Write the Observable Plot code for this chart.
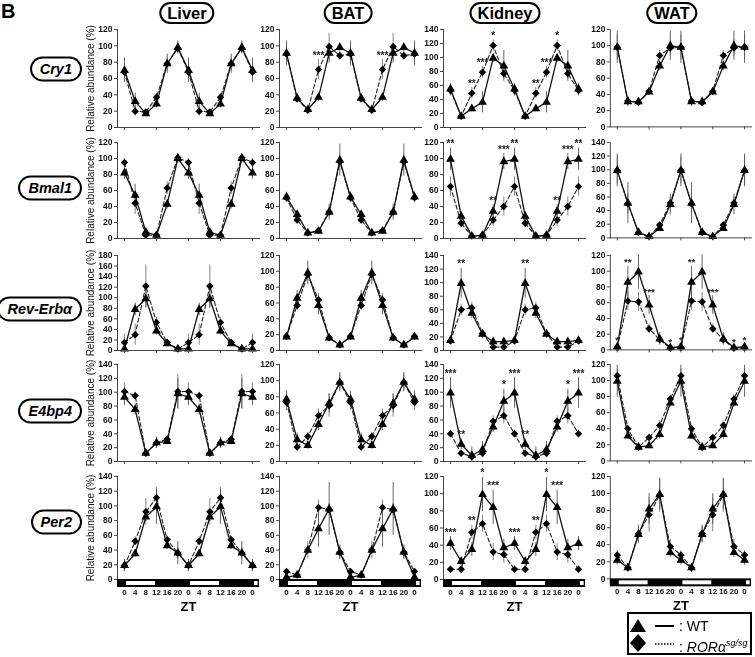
<!DOCTYPE html>
<html><head><meta charset="utf-8">
<script src="https://cdn.jsdelivr.net/npm/d3@7"></script>
<script src="https://cdn.jsdelivr.net/npm/@observablehq/plot@0.6"></script>
<style>
body{margin:0;background:#fff;}
#fig{position:relative;width:755px;height:657px;overflow:hidden;background:#fff;font-family:"Liberation Sans",Arial,sans-serif;color:#000;}
.panel{position:absolute;will-change:transform;}
.panel svg{overflow:visible;display:block;}
.tissue{position:absolute;top:2px;height:18px;line-height:18px;border:2px solid #000;border-radius:12px;font-weight:bold;font-size:16.5px;padding:0 6px;transform:translateX(-50%);white-space:nowrap;}
.gene{position:absolute;right:673px;height:21px;line-height:21px;border:2px solid #000;border-radius:13px;font-weight:bold;font-style:italic;font-size:14.5px;padding:0 8px;transform:translateY(-50%);white-space:nowrap;}
#letter{position:absolute;left:1px;top:0px;font-weight:bold;font-size:20px;}
#legend{position:absolute;left:627px;top:612px;width:121px;height:39px;border:2px solid #000;font-size:14px;}
#legend .row{position:absolute;left:0;height:18px;line-height:18px;white-space:nowrap;}
</style></head>
<body><div id="fig"><div id="letter">B</div></div>
<script>
// ---------- labels ----------
const genes = ["Cry1", "Bmal1", "Rev-Erb\u03b1", "E4bp4", "Per2"];
const tissues = ["Liver", "BAT", "Kidney", "WAT"];
// one day of sampling (ZT, h); the figure double-plots it over ZT0-48
const ztDay = [0, 4, 8, 12, 16, 20];
// y-axis maximum per gene row (Liver, BAT, Kidney, WAT)
const yMax = [[120,120,140,120],[120,120,120,140],[180,120,140,120],[140,120,140,120],[140,140,120,120]];

// ---------- values (% relative abundance), order Liver, BAT, Kidney, WAT ----------
const cry1WT     = [[70,32,17,29,78,98],[91,36,22,37,91,98],[55,16,27,36,99,88],[98,31,31,43,75,100]];
const cry1WTerr  = [[15,10,4,5,12,8],[15,4,3,5,12,5],[8,3,5,15,6,22],[20,6,4,4,6,18]];
const cry1Mut    = [[68,20,19,37,78,97],[90,35,21,71,99,88],[53,16,49,79,117,77],[98,32,30,44,88,97]];
const cry1MutErr = [[8,6,3,5,8,6],[10,3,3,12,16,5],[8,3,8,8,8,8],[15,5,4,4,6,10]];

const bmal1WT     = [[82,54,8,4,43,100],[52,30,7,9,33,98],[99,28,3,4,34,96],[99,51,8,2,14,49]];
const bmal1WTerr  = [[8,14,4,3,6,6],[6,4,2,3,10,20],[14,5,2,2,8,10],[24,30,4,2,4,15]];
const bmal1Mut    = [[95,44,4,4,63,101],[51,23,7,10,33,96],[65,19,3,4,23,40],[99,50,8,2,19,51]];
const bmal1MutErr = [[5,14,3,3,8,5],[6,4,2,3,6,8],[12,6,2,2,8,12],[20,15,3,2,4,8]];

const revWT     = [[3,78,98,37,13,3],[17,66,98,57,16,7],[15,99,55,24,13,13],[4,86,99,57,14,3]];
const revWTerr  = [[3,12,18,8,4,2],[4,10,15,12,4,2],[4,22,8,6,3,3],[3,20,22,12,8,2]];
const revMut    = [[15,30,122,53,15,3],[18,57,96,64,16,7],[14,60,63,25,5,5],[3,62,61,27,13,2]];
const revMutErr = [[16,20,40,10,6,3],[4,6,8,8,4,2],[4,8,8,6,3,3],[2,12,12,6,4,2]];

const e4bp4WT     = [[93,75,12,27,29,98],[77,27,20,46,72,98],[99,25,9,17,50,87],[99,31,17,19,33,72]];
const e4bp4WTerr  = [[12,8,3,8,5,22],[10,8,5,8,12,12],[22,8,12,12,8,17],[20,4,5,4,6,5]];
const e4bp4Mut    = [[101,95,12,27,32,101],[73,18,31,57,69,98],[40,12,7,12,58,66],[106,40,17,29,44,77]];
const e4bp4MutErr = [[12,5,3,8,5,25],[10,5,5,8,14,10],[5,3,5,5,8,12],[8,4,5,4,6,5]];

const per2WT     = [[19,35,85,99,46,36],[3,6,40,69,96,37],[42,21,35,99,84,37],[22,13,52,82,99,31]];
const per2WTerr  = [[8,5,6,24,5,16],[3,3,5,25,36,10],[8,4,8,20,20,10],[6,5,10,18,18,6]];
const per2Mut    = [[19,52,92,111,54,36],[11,6,40,98,95,37],[12,12,55,65,32,29],[28,13,53,75,98,38]];
const per2MutErr = [[8,6,18,14,5,8],[4,3,12,10,8,8],[3,5,8,10,10,10],[5,5,10,20,20,8]];

// significance marks: [gene index, tissue index, ZT, label]
const signif = [
  [0,1,12,"***"],[0,1,36,"***"],
  [0,2,8,"**"],[0,2,12,"***"],[0,2,16,"*"],[0,2,32,"**"],[0,2,36,"***"],[0,2,40,"*"],
  [1,2,0,"**"],[1,2,16,"**"],[1,2,20,"***"],[1,2,24,"**"],[1,2,40,"**"],[1,2,44,"***"],[1,2,48,"**"],
  [2,2,4,"**"],[2,2,28,"**"],
  [2,3,0,"*"],[2,3,4,"**"],[2,3,12,"***"],[2,3,20,"*"],[2,3,24,"*"],[2,3,28,"**"],[2,3,36,"***"],[2,3,44,"*"],[2,3,48,"*"],
  [3,2,0,"***"],[3,2,4,"**"],[3,2,20,"*"],[3,2,24,"***"],[3,2,28,"**"],[3,2,44,"*"],[3,2,48,"***"],
  [4,2,0,"***"],[4,2,8,"**"],[4,2,12,"*"],[4,2,16,"***"],[4,2,24,"***"],[4,2,32,"**"],[4,2,36,"*"],[4,2,40,"***"]
];
// light phases (ZT) for the light/dark bar
const lightPhases = [[0,12],[24,36],[48,50.5]];
const ztTicksMajor = [0,12,24,36,48];
const ztTicksAll = [0,4,8,12,16,20,24,28,32,36,40,44,48];

const WT  = [cry1WT, bmal1WT, revWT, e4bp4WT, per2WT];
const WTE = [cry1WTerr, bmal1WTerr, revWTerr, e4bp4WTerr, per2WTerr];
const MU  = [cry1Mut, bmal1Mut, revMut, e4bp4Mut, per2Mut];
const MUE = [cry1MutErr, bmal1MutErr, revMutErr, e4bp4MutErr, per2MutErr];

// ---------- layout ----------
const colAxisX = [117, 279, 443, 610];
const rowZeroY = [127, 238, 350, 461, 579];
const rowTopY  = [29, 142, 255, 364, 476];
const geneY    = [69, 188, 309, 411, 522];
const tissueX  = [187, 348, 505, 672];
const ml = 34, mr = 4, mt = 12, innerW = 142, pad = 7, span = 128;

const fig = document.getElementById("fig");

tissues.forEach((name, t) => {
  const d = document.createElement("div");
  d.className = "tissue"; d.textContent = name; d.style.left = tissueX[t] + "px";
  fig.appendChild(d);
});
genes.forEach((name, g) => {
  const d = document.createElement("div");
  d.className = "gene"; d.textContent = name; d.style.top = geneY[g] + "px";
  fig.appendChild(d);
});

genes.forEach((gene, g) => {
  tissues.forEach((tissue, t) => {
    const rows = ztTicksAll.map((zt) => {
      const k = ztDay.indexOf(zt % 24);
      return {zt, wt: WT[g][t][k], wtE: WTE[g][t][k], mu: MU[g][t][k], muE: MUE[g][t][k]};
    });
    const stars = signif.filter(s => s[0] === g && s[1] === t).map(s => {
      const r = rows[ztTicksAll.indexOf(s[2])];
      return {zt: s[2], top: Math.max(r.wt + r.wtE, r.mu + r.muE), s: s[3]};
    });
    const last = g === genes.length - 1;
    const h0 = rowZeroY[g] - rowTopY[g];
    const mb = last ? 42 : 6;
    const ym = yMax[g][t];
    const marks = [
      Plot.ruleX(rows, {x: "zt", y1: d => Math.max(0, d.mu - d.muE), y2: d => d.mu + d.muE, stroke: "#777", strokeWidth: 0.9}),
      Plot.ruleX(rows, {x: "zt", y1: d => Math.max(0, d.wt - d.wtE), y2: d => d.wt + d.wtE, stroke: "#555", strokeWidth: 0.9}),
      Plot.line(rows, {x: "zt", y: "mu", stroke: "#222", strokeWidth: 1.1, strokeDasharray: "4,2.5"}),
      Plot.line(rows, {x: "zt", y: "wt", stroke: "#111", strokeWidth: 1.3}),
      Plot.dot(rows, {x: "zt", y: "mu", symbol: "diamond2", r: 3.4, fill: "#000", stroke: "none"}),
      Plot.dot(rows, {x: "zt", y: "wt", symbol: "triangle", r: 3.3, fill: "#000", stroke: "none"}),
      Plot.text(stars, {x: "zt", y: "top", text: "s", dy: -1, lineAnchor: "bottom", fontSize: 10, fontWeight: "bold", fill: "#222"}),
      Plot.frame({anchor: "left", stroke: "#444"}),
      Plot.axisY({ticks: d3.range(0, ym + 1, 20), tickSize: 3, tickPadding: 2, label: null, fontSize: 8.5, fontWeight: "bold", stroke: "#444"})
    ];
    if (t === 0) {
      marks.push(Plot.axisY({ticks: [], tickSize: 0, label: "Relative abundance (%)", labelAnchor: "center", labelArrow: "none", labelOffset: 31, fontSize: 10, fontWeight: "normal"}));
    }
    if (!last) {
      marks.push(Plot.frame({anchor: "bottom", stroke: "#444"}));
      marks.push(Plot.axisX({ticks: ztTicksMajor, tickSize: 3, tickFormat: () => "", label: null, stroke: "#444"}));
    } else {
      marks.push(Plot.rect([0], {y1: 0, y2: 0, insetBottom: -8, fill: "#000"}));
      marks.push(Plot.rect(lightPhases, {x1: d => d[0], x2: d => d[1], y1: 0, y2: 0, insetTop: 2, insetBottom: -6, insetLeft: 2, insetRight: 1, fill: "#fff"}));
      marks.push(Plot.axisX({ticks: ztTicksAll, tickSize: 0, tickPadding: 10, tickFormat: d => String(d % 24), label: null, fontSize: 8, fontWeight: "bold", fontFamily: "'Liberation Sans Narrow', 'Liberation Sans', Arial, sans-serif"}));
      marks.push(Plot.text(["ZT"], {frameAnchor: "bottom", dy: 31, fontSize: 13, fontWeight: "bold", fill: "#000"}));
    }
    const svg = Plot.plot({
      width: ml + innerW + mr,
      height: mt + h0 + mb,
      marginLeft: ml, marginRight: mr, marginTop: mt, marginBottom: mb,
      x: {domain: [0, 48], range: [ml + pad, ml + pad + span]},
      y: {domain: [0, ym], range: [mt + h0, mt]},
      style: {fontFamily: "'Liberation Sans', Arial, sans-serif", fontSize: "8.5px", color: "#111", background: "transparent", overflow: "visible"},
      marks
    });
    const div = document.createElement("div");
    div.className = "panel";
    div.style.left = (colAxisX[t] - ml) + "px";
    div.style.top = (rowTopY[g] - mt) + "px";
    div.appendChild(svg);
    fig.appendChild(div);
  });
});

// legend
const legend = document.createElement("div");
legend.id = "legend";
legend.innerHTML =
  '<div class="row" style="top:3px"><svg width="50" height="18" style="vertical-align:top"><path d="M9,2 L17,15 L1,15 Z" fill="#000"/><line x1="26" x2="45" y1="9" y2="9" stroke="#000" stroke-width="2"/></svg>: WT</div>' +
  '<div class="row" style="top:20px"><svg width="50" height="18" style="vertical-align:top"><path d="M9,0 L17,9 L9,18 L1,9 Z" fill="#000"/><line x1="26" x2="45" y1="10" y2="10" stroke="#000" stroke-width="1.5" stroke-dasharray="1.5,1.5"/></svg>: <i>ROR\u03b1</i><sup style="font-size:9px;font-style:italic;vertical-align:6px">sg/sg</sup></div>';
fig.appendChild(legend);
</script>
</body></html>
